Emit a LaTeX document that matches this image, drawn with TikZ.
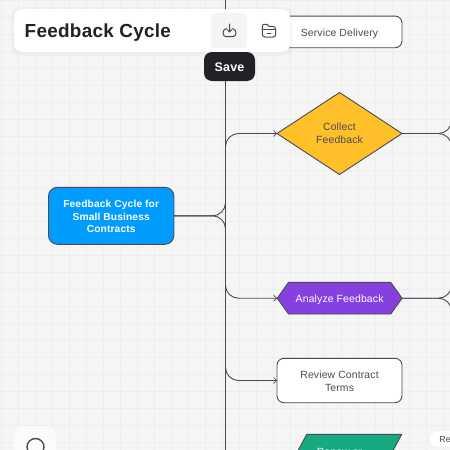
\documentclass[tikz,border=0pt]{standalone}
\usepackage{fontspec}
\setmainfont[LetterSpace=1.5]{Liberation Sans}
\usetikzlibrary{arrows.meta,shapes.geometric}
\definecolor{bgc}{HTML}{F5F5F5}
\definecolor{gridc}{HTML}{EEEEEE}
\definecolor{linec}{HTML}{4A4A54}
\definecolor{txtc}{HTML}{4A4A54}
\definecolor{bluec}{HTML}{009DFF}
\definecolor{yellowc}{HTML}{FFC02A}
\definecolor{purplec}{HTML}{8640E0}
\definecolor{greenc}{HTML}{17A97F}
\definecolor{hoverc}{HTML}{F4F4F4}
\definecolor{inkc}{HTML}{222226}
\tikzset{
  x=1pt,y=-1pt,
  base/.style={inner sep=0pt,outer sep=0pt,align=center,text=txtc,font=\fontsize{10.4}{13}\selectfont},
  settled/.style={execute at begin node={\rule{0pt}{10.5pt}},execute at end node={\rule[-2.3pt]{0pt}{2.3pt}}},
  multi/.style={execute at begin node={\rule{0pt}{#1}}},
  card/.style={base,settled,draw=linec,line width=0.9pt,fill=white,rounded corners=7pt,minimum width=125pt},
  label/.style={base,settled,minimum width=125pt},
  conn/.style={draw=linec,line width=0.9pt,rounded corners=13pt},
  arr/.style={conn,-{Straight Barb[length=3pt,width=6pt,line width=0.7pt]}},
  shapeline/.style={draw=linec,line width=0.9pt,line join=round},
  icon/.style={draw=linec,line width=1pt,line cap=round,line join=round},
}
\begin{document}
\begin{tikzpicture}
\useasboundingbox (0,0) rectangle (450,450);
\clip (0,0) rectangle (450,450);
\fill[bgc] (0,0) rectangle (450,450);
\foreach \i in {0,...,26} {
  \draw[gridc,line width=1pt] (1+17*\i,0) -- (1+17*\i,450);
  \draw[gridc,line width=1pt] (0,17*\i) -- (450,17*\i);
}
\coordinate (spine) at (225.5,0);
\coordinate (spineEnd) at (225.5,450);
\coordinate (forkR) at (451.5,0);

% node shapes
\fill[yellowc,shapeline] (277,133.5) -- (339.5,92.5) -- (402,133.5) -- (339.5,174.5) -- cycle;
\fill[purplec,shapeline] (277.3,298.2) -- (288.5,282.4) -- (390.8,282.4) -- (402,298.2) -- (390.8,314) -- (288.5,314) -- cycle;
\fill[greenc,shapeline] (306.7,434.4) -- (401.7,434.4) -- (376,482) -- (281,482) -- cycle;

\node[card,minimum height=31.7pt] (service) at (339.5,31.9) {Service Delivery};
\node[label,multi=22.1pt,minimum height=82pt,font=\fontsize{10.4}{12.5}\selectfont] (collect) at (339.5,133.5) {Collect\\Feedback};
\node[card,multi=36.4pt,fill=bluec,rounded corners=9pt,minimum width=125.5pt,minimum height=57pt,text=white,font=\fontsize{10.2}{12.7}\selectfont\bfseries] (root) at (111.2,215.8) {Feedback Cycle for\\Small Business\\Contracts};
\node[label,minimum height=31.6pt,text=white] (analyze) at (339.6,298.2) {Analyze Feedback};
\node[card,multi=24.2pt,minimum height=44.4pt] (review) at (339.5,380.5) {Review Contract\\Terms};
\node[label,minimum height=30pt,text=white] (renew) at (339.5,451.5) {Renew or};

% connectors
\draw[linec,line width=1pt] (spine) -- (spineEnd);
\draw[arr] (root.east) -- (spine|-root.east) -- (spine|-collect.west) -- (collect.west);
\draw[arr] (root.east) -- (spine|-root.east) -- (spine|-analyze.west) -- (analyze.west);
\draw[arr] (spine|-analyze.south) -- (spine|-review.west) -- (review.west);
\draw[conn] (forkR|-collect.north) -- (forkR|-collect.east) -- (collect.east) ;
\draw[conn] (forkR|-collect.south) -- (forkR|-collect.east) -- (collect.east);
\draw[conn] (forkR|-analyze.north) ++(0,-20) -- (forkR|-analyze.east) -- (analyze.east);
\draw[conn] (forkR|-analyze.south) ++(0,20) -- (forkR|-analyze.east) -- (analyze.east);

% small clipped pill on the right
\node[fill=white,rounded corners=7.5pt,minimum width=60pt,minimum height=15.7pt,inner sep=0pt] (pill) at (460,439) {};
\node[base,anchor=west,font=\fontsize{8.8}{10}\selectfont,xshift=9.5pt,yshift=-0.8pt] (pilltext) at (pill.west) {Re};

% toolbar
\foreach \o in {3,2,1}
  \fill[black,opacity=0.012,rounded corners=8pt] ({14-\o},{10-\o}) rectangle ({290+\o},{53+\o});
\node[fill=white,rounded corners=8pt,minimum width=276pt,minimum height=43pt,inner sep=0pt] (bar) at (152,30.5) {};
\node[anchor=west,inner sep=0pt,text=inkc,font=\fontsize{18.9}{22}\selectfont\bfseries] (title) at (24.5,32.2) {Feedback Cycle};
\node[fill=hoverc,rounded corners=4pt,minimum width=36pt,minimum height=35.5pt,inner sep=0pt] (savebtn) at (229,30.7) {};
\node[fill=inkc,rounded corners=8pt,minimum width=51pt,minimum height=29pt,inner sep=0pt,text=white,font=\fontsize{12.5}{14}\selectfont\bfseries,execute at begin node={\rule{0pt}{12pt}},execute at end node={\rule[-3pt]{0pt}{3pt}}] (save) at (229.5,66.5) {Save};
% download icon
\draw[icon] (226.3,28.5) .. controls (224,29.2) and (223,31) .. (223,33) .. controls (223,35.5) and (224.5,36.7) .. (226.5,36.7) -- (232.5,36.7) .. controls (234.5,36.7) and (236,35.5) .. (236,33) .. controls (236,31) and (235,29.2) .. (232.7,28.5);
\draw[icon] (229.5,24) -- (229.5,32) (227,29.5) -- (229.5,32) -- (232,29.5);
% folder icon
\draw[icon] (262.3,28.5) -- (262.3,26.5) .. controls (262.3,25) and (263,24.3) .. (264.5,24.3) -- (267,24.3) -- (269,26.3) -- (272.5,26.3) .. controls (274.5,26.3) and (275.7,27.5) .. (275.7,29.5) -- (275.7,34) .. controls (275.7,36) and (274.5,37.2) .. (272.5,37.2) -- (265.5,37.2) .. controls (263.5,37.2) and (262.3,36) .. (262.3,34) -- cycle;
\draw[icon] (262.3,29.3) -- (275.7,29.3) (267,33.7) -- (271,33.7);

% bottom-left button
\node[fill=white!60!bgc,rounded corners=9pt,minimum width=42pt,minimum height=50pt,inner sep=0pt] (searchbtn) at (35,451) {};
\draw[linec,line width=1.4pt] (35.5,447) circle[radius=8.5];
\end{tikzpicture}
\end{document}
